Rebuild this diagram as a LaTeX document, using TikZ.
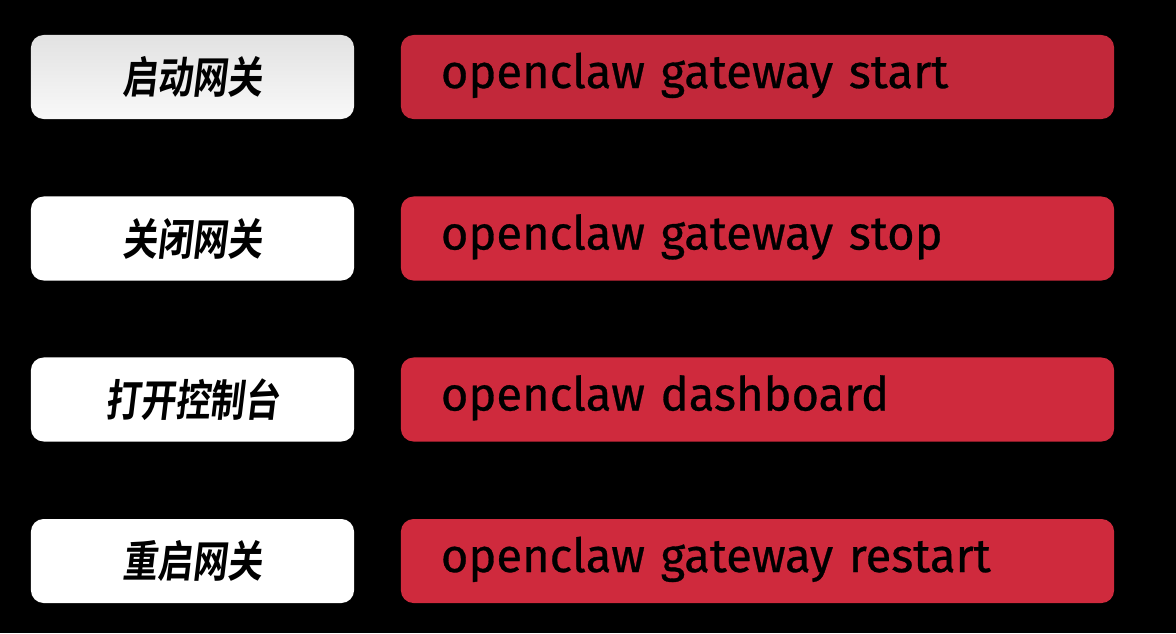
\documentclass[tikz,border=0pt]{standalone}
\usepackage{fontspec}
\usetikzlibrary{positioning}
\newfontfamily\cjk[FakeSlant=0.12, FakeStretch=0.8]{Noto Sans CJK SC Bold}
\newfontfamily\cmdfont[FakeBold=0.6]{Fira Sans}
\definecolor{cmdred}{HTML}{CF2A3D}
\definecolor{cmdredd}{HTML}{C2283A}
\definecolor{labgray}{HTML}{E2E2E2}

\begin{document}
\begin{tikzpicture}[
  x=0.025cm, y=-0.025cm,
  label/.style={rectangle, fill=white, rounded corners=9pt, minimum width=8.075cm, minimum height=2.1cm, inner sep=0pt, font=\cjk\fontsize{31}{31}\selectfont, align=center},
  cmd/.style={rectangle, fill=#1, rounded corners=9pt, minimum height=2.1cm, text width=15.825cm, text height=0.95cm, text depth=0.4cm, inner xsep=1cm, inner ysep=0pt, font=\cmdfont\fontsize{33.5}{33.5}\selectfont, align=left},
]
  % background
  \fill[black] (0,0) rectangle (1176,633);
  \useasboundingbox (0,0) rectangle (1176,633);

  % labels and commands
  \node[label, fill=none, top color=labgray, bottom color=white!95!gray] (lab1) at (192.5,77) {启动网关};
  \node[cmd=cmdredd] (cmd1) at (757.5,77) {openclaw gateway start};

  \node[label] (lab2) at (192.5,238.5) {关闭网关};
  \node[cmd=cmdred] (cmd2) at (757.5,238.5) {openclaw gateway stop};

  \node[label] (lab3) at (192.5,399.5) {打开控制台};
  \node[cmd=cmdred] (cmd3) at (757.5,399.5) {openclaw dashboard};

  \node[label] (lab4) at (192.5,561) {重启网关};
  \node[cmd=cmdred] (cmd4) at (757.5,561) {openclaw gateway restart};
\end{tikzpicture}
\end{document}
